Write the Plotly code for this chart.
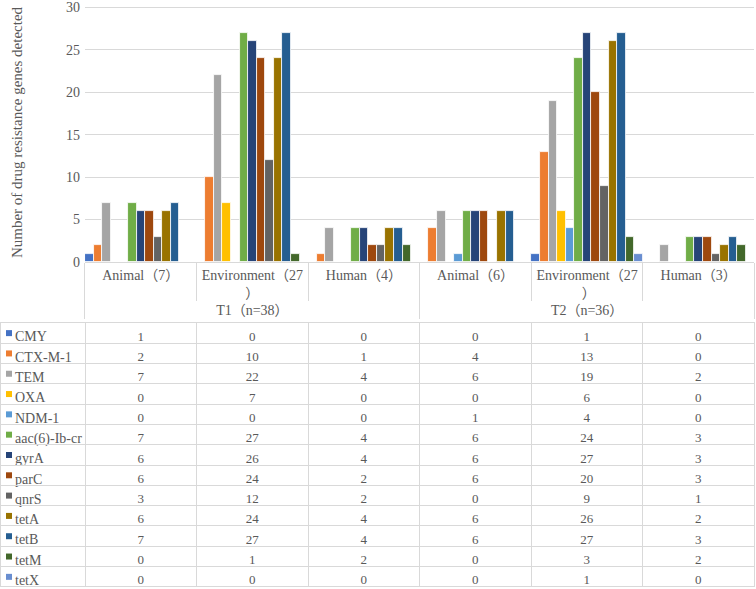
import plotly.graph_objects as go

genes = ["CMY", "CTX-M-1", "TEM", "OXA", "NDM-1", "aac(6)-Ib-cr", "gyrA",
         "parC", "qnrS", "tetA", "tetB", "tetM", "tetX"]
colors = ["#4472C4", "#ED7D31", "#A5A5A5", "#FFC000", "#5B9BD5", "#70AD47",
          "#264478", "#9E480E", "#636363", "#997300", "#255E91", "#43682B", "#698ED0"]

periods = ["T1（n=38）"] * 3 + ["T2（n=36）"] * 3
sources = ["Animal（7）", "Environment（27<br>）", "Human（4）",
           "Animal（6）", "Environment（27<br> ）", "Human（3）"]

# values per gene: T1 Animal, T1 Environment, T1 Human, T2 Animal, T2 Environment, T2 Human
values = {
    "CMY":          [1, 0, 0, 0, 1, 0],
    "CTX-M-1":      [2, 10, 1, 4, 13, 0],
    "TEM":          [7, 22, 4, 6, 19, 2],
    "OXA":          [0, 7, 0, 0, 6, 0],
    "NDM-1":        [0, 0, 0, 1, 4, 0],
    "aac(6)-Ib-cr": [7, 27, 4, 6, 24, 3],
    "gyrA":         [6, 26, 4, 6, 27, 3],
    "parC":         [6, 24, 2, 6, 20, 3],
    "qnrS":         [3, 12, 2, 0, 9, 1],
    "tetA":         [6, 24, 4, 6, 26, 2],
    "tetB":         [7, 27, 4, 6, 27, 3],
    "tetM":         [0, 1, 2, 0, 3, 2],
    "tetX":         [0, 0, 0, 0, 1, 0],
}

SERIF = "Liberation Serif, 'Noto Sans CJK SC', serif"
GRAY = "#595959"
LINE = "#D9D9D9"

fig = go.Figure()
for g, c in zip(genes, colors):
    fig.add_trace(go.Bar(
        x=[periods, sources], y=values[g], name=g,
        marker=dict(color=c, line=dict(color="white", width=0.8)),
        showlegend=False,
    ))

# legend keys in the table's first column
fig.add_trace(go.Scatter(
    x=[9] * len(genes), y=genes, mode="markers",
    marker=dict(symbol="square", size=6, color=colors, line=dict(width=0)),
    xaxis="x2", yaxis="y2", showlegend=False, hoverinfo="skip",
))

# data table below the chart
labels = ["\u00a0\u00a0" + g for g in genes]
columns = [labels] + [[values[g][i] for g in genes] for i in range(6)]
header_vals = [col[0] for col in columns]
cell_vals = [col[1:] for col in columns]
aligns = ["left"] + ["center"] * 6
fsizes = [14] + [13] * 6

fig.add_trace(go.Table(
    domain=dict(x=[0, 0.998], y=[0, 0.4521]),
    columnwidth=[85] + [111.5] * 6,
    header=dict(values=header_vals, align=aligns, height=20.3,
                fill_color="rgba(0,0,0,0)", line=dict(color=LINE, width=1),
                font=dict(family=SERIF, size=fsizes, color=GRAY)),
    cells=dict(values=cell_vals, align=aligns, height=20.3,
               fill_color="rgba(0,0,0,0)", line=dict(color=LINE, width=1),
               font=dict(family=SERIF, size=fsizes, color=GRAY)),
))

fig.update_layout(
    width=756, height=589,
    margin=dict(l=0, r=0, t=3, b=2),
    paper_bgcolor="white", plot_bgcolor="rgba(0,0,0,0)",
    barmode="group", bargap=0, bargroupgap=0,
    font=dict(family=SERIF, color=GRAY),
    xaxis=dict(
        type="multicategory", domain=[0.1124, 0.998], automargin=False,
        tickson="boundaries", ticks="outside", ticklen=38, tickcolor=LINE,
        showline=True, linecolor=LINE, linewidth=1,
        showdividers=True, dividercolor=LINE, dividerwidth=1,
        tickfont=dict(family=SERIF, size=14, color=GRAY),
        showgrid=False,
    ),
    yaxis=dict(
        domain=[0.5565, 1], range=[0, 30.5], tickvals=[0, 5, 10, 15, 20, 25, 30],
        automargin=False, ticklabelstandoff=4, ticklabeloverflow="allow",
        gridcolor=LINE, gridwidth=1, zeroline=False, showline=False,
        tickfont=dict(family=SERIF, size=14, color=GRAY),
        title=dict(text="Number of drug resistance genes detected", standoff=39,
                   font=dict(family=SERIF, size=15, color=GRAY)),
    ),
    xaxis2=dict(domain=[0, 0.1124], range=[0, 85], visible=False,
                fixedrange=True, anchor="y2"),
    yaxis2=dict(domain=[0, 0.4521], type="category", categoryarray=genes,
                categoryorder="array", range=[12.5, -0.5], visible=False,
                fixedrange=True, anchor="x2"),
)

fig.write_html("out.html", config={"displayModeBar": False},
               post_script="document.body.style.margin='0';")
